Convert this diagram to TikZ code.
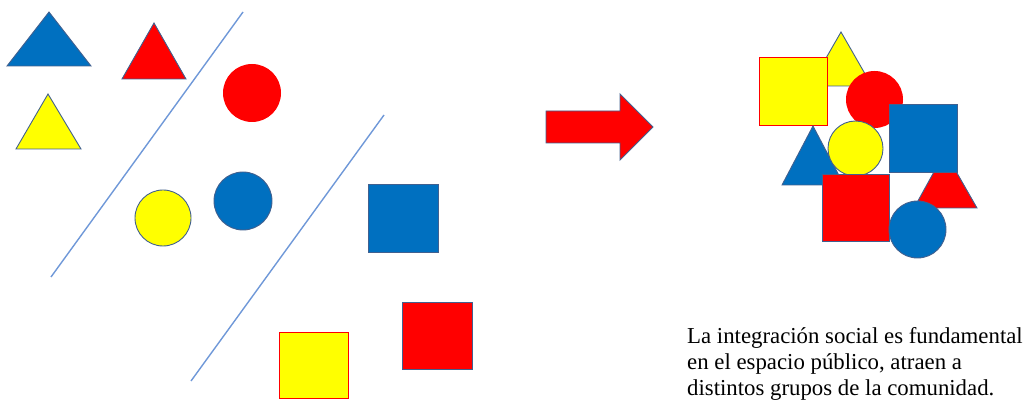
\documentclass[tikz,border=0pt]{standalone}
\usepackage{fontspec}
\newfontfamily\notefont{Liberation Serif}
\usepackage{tikz}
\usetikzlibrary{positioning}

\definecolor{fillblue}{HTML}{0070C0}
\definecolor{fillred}{HTML}{FF0000}
\definecolor{fillyellow}{HTML}{FFFF00}
\definecolor{edgeblue}{HTML}{41608F}
\definecolor{divline}{HTML}{6F98D8}

\tikzset{
	piece/.style={draw=edgeblue, line width=0.9pt, line join=miter},
	bluepiece/.style={piece, fill=fillblue},
	redpiece/.style={piece, fill=fillred},
	yellowpiece/.style={piece, fill=fillyellow},
	yellowbox/.style={draw=fillred, line width=1pt, fill=fillyellow},
	divider/.style={draw=divline, line width=1.4pt},
	caption/.style={font=\notefont\fontsize{22.8}{26}\selectfont, align=left, inner sep=0pt}
}

\begin{document}
\begin{tikzpicture}[x=1pt,y=-1pt]
	\useasboundingbox (0,0) rectangle (1028,403);

	% left side: three groups split by two lines
	\path[bluepiece]   (7,66) -- (91,66) -- (49,12) -- cycle;
	\path[redpiece]    (122,79) -- (186,79) -- (154,23) -- cycle;
	\path[yellowpiece] (16,149) -- (81,149) -- (48,94) -- cycle;
	\path[divider] (243,12) -- (51,277);
	\path[fill=fillred]  (252,93) circle[radius=29];
	\path[yellowpiece]   (163,218) circle[radius=28];
	\path[bluepiece]     (243,201) circle[radius=29];
	\path[divider] (384,115) -- (191,381);
	\path[bluepiece] (368,184) rectangle (438,252);
	\path[redpiece]  (402,302) rectangle (472,369);
	\path[yellowbox] (279,332) rectangle (348,398);

	% arrow
	\path[redpiece] (546,111) -- (620,111) -- (620,94) -- (653,127)
		-- (620,160) -- (620,143) -- (546,143) -- cycle;

	% right side: everything mixed together
	\path[yellowpiece] (810,86) -- (872,86) -- (841,32) -- cycle;
	\path[yellowbox]   (759,58) rectangle (827,126);
	\path[fill=fillred] (874.5,99.5) circle[radius=28.5];
	\path[bluepiece]   (782,185) -- (844,185) -- (813,126) -- cycle;
	\path[yellowpiece] (855.5,148.5) circle[radius=27.5];
	\path[redpiece]    (914,208) -- (977,208) -- (945,152) -- cycle;
	\path[bluepiece]   (889,104) rectangle (957,172);
	\path[redpiece]    (822,174) rectangle (889,241);
	\path[bluepiece]   (917.5,229.5) circle[radius=28.5];

	\node[caption, anchor=base west] (note) at (687,395)
		{La integración social es fundamental\\
		 en el espacio público, atraen a\\
		 distintos grupos de la comunidad.};
\end{tikzpicture}
\end{document}
